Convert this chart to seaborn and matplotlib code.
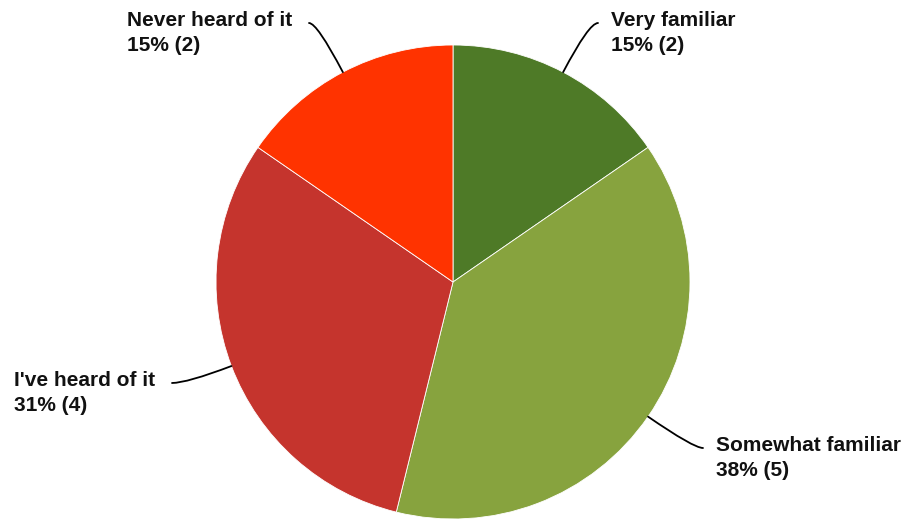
import matplotlib
matplotlib.use("Agg")
import matplotlib.pyplot as plt
import seaborn as sns
import numpy as np

# Survey answers (count of respondents)
categories = ["Very familiar", "Somewhat familiar", "I've heard of it", "Never heard of it"]
counts = [2, 5, 4, 2]
colors = ["#4e7a27", "#87a33e", "#c5342d", "#ff3300"]

sns.set_theme(style="white")
plt.rcParams['font.family'] = ['Liberation Sans', 'DejaVu Sans']

W, H = 907, 519
fig = plt.figure(figsize=(W / 100, H / 100), dpi=100)
ax = fig.add_axes([0, 0, 1, 1])

cx, cy, r = 453, H - 282, 237
wedges, _ = ax.pie(counts, colors=colors, startangle=90, counterclock=False,
                   center=(cx, cy), radius=r, frame=True,
                   wedgeprops=dict(edgecolor="white", linewidth=0.6))
ax.set_xlim(0, W)
ax.set_ylim(0, H)
ax.set_aspect('equal')
ax.axis('off')

# where each leader line ends (pixel coords, y from top)
leader_ends = [(598, 23), (703, 448), (172, 383), (309, 23)]

total = sum(counts)
for w, cat, n, (ex, ey) in zip(wedges, categories, counts, leader_ends):
    mid = np.deg2rad((w.theta1 + w.theta2) / 2)
    px, py = cx + r * np.cos(mid), cy + r * np.sin(mid)
    ey = H - ey
    ax.annotate("", xy=(px, py), xytext=(ex, ey),
                arrowprops=dict(arrowstyle="-", color="black", lw=1.3,
                                shrinkA=0, shrinkB=0,
                                connectionstyle=f"angle3,angleA=0,angleB={np.rad2deg(mid):.1f}"))
    label = f"{cat}\n{n / total:.0%} ({n})"
    if ex > cx:
        ax.text(ex + 13, ey + 12, label, ha="left", va="top", fontsize=15,
                fontweight="bold", linespacing=1.4, color="#111111")
    else:
        ax.text(ex - 17, ey + 12, label, ha="right", va="top", fontsize=15,
                fontweight="bold", linespacing=1.4, color="#111111",
                multialignment="left")

fig.savefig("out.png", dpi=100)
